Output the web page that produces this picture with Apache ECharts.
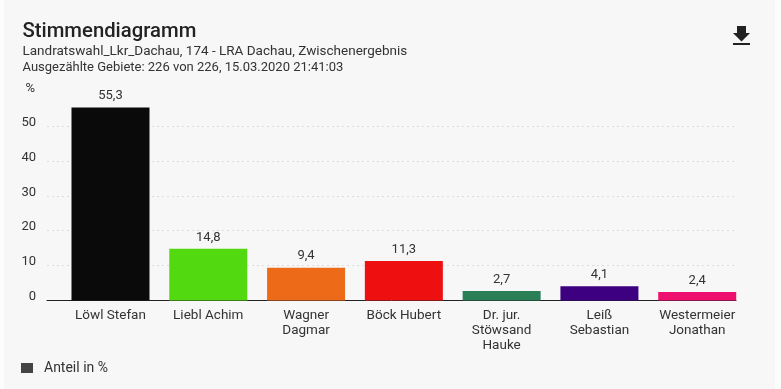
<!DOCTYPE html>
<html><head><meta charset="utf-8">
<style>html,body{margin:0;padding:0;background:#fcfcfc}#bg{position:absolute;left:4px;top:0;width:771px;height:389px;background:#f7f7f7}#c{position:absolute;left:0;top:0;width:781px;height:389px}</style>
<script src="https://cdn.jsdelivr.net/npm/echarts@6/dist/echarts.min.js"></script>
</head><body><div id="bg"></div><div id="c"></div>
<script>
const categories = ['Löwl Stefan','Liebl Achim','Wagner\nDagmar','Böck Hubert','Dr. jur.\nStöwsand\nHauke','Leiß\nSebastian','Westermeier\nJonathan'];
const values = [55.3,14.8,9.4,11.3,2.7,4.1,2.4];
const barColors = ['#0a0a0a','#52d90f','#ec6a18','#ee1010','#2a7f57','#3d0080','#ee0f6e'];
const yTicks = [0,10,20,30,40,50,60];
const FONT = 'Roboto';
const TXT = '#333';
const GRID = '#dcdcdc';
const chart = echarts.init(document.getElementById('c'), null, {renderer:'canvas'});
chart.setOption({
  animation:false,
  backgroundColor:'transparent',
  textStyle:{fontFamily:FONT,color:TXT},
  title:[
    {text:'Stimmendiagramm',left:22.5,top:22,padding:0,textStyle:{fontFamily:FONT,fontSize:20.3,fontWeight:500,color:'#222'}},
    {text:'Landratswahl_Lkr_Dachau, 174 - LRA Dachau, Zwischenergebnis',left:22.5,top:45,padding:0,textStyle:{fontFamily:FONT,fontSize:13.5,fontWeight:400,color:TXT}},
    {text:'Ausgezählte Gebiete: 226 von 226, 15.03.2020 21:41:03',left:22.5,top:61,padding:0,textStyle:{fontFamily:FONT,fontSize:13,fontWeight:400,color:TXT}}
  ],
  legend:{left:21,top:361,padding:0,icon:'rect',itemWidth:12,itemHeight:10,itemGap:10,
    itemStyle:{color:'#444'},textStyle:{fontFamily:FONT,fontSize:14,color:TXT,padding:[0,0,0,6]},data:['Anteil in %']},
  grid:[
    {left:61.6,right:34.9,top:91,bottom:88.5},
    {left:47,right:45,top:91,bottom:88.5}
  ],
  xAxis:[
    {type:'category',gridIndex:0,data:categories,axisLine:{show:false},axisTick:{show:false},
     axisLabel:{interval:0,margin:8,fontFamily:FONT,fontSize:13.5,lineHeight:15,color:TXT}},
    {type:'value',gridIndex:1,min:0,max:1,axisLabel:{show:false},axisTick:{show:false},splitLine:{show:false},
     axisLine:{show:true,lineStyle:{color:'#222',width:1}}}
  ],
  yAxis:[
    {type:'value',gridIndex:0,min:0,max:60,interval:10,show:false},
    {type:'value',gridIndex:1,min:0,max:60,interval:10,axisLine:{show:false},axisTick:{show:false},
     axisLabel:{margin:11,fontFamily:FONT,fontSize:13,color:TXT,verticalAlign:'bottom',lineHeight:7,
       formatter:v=>yTicks.includes(v)&&v<60?String(v):''},
     splitLine:{show:true,lineStyle:{type:[2,3],width:1,
       color:['transparent',GRID,GRID,GRID,GRID,GRID,'transparent']}},
     name:'%',nameLocation:'end',nameGap:-4,nameTextStyle:{fontFamily:FONT,fontSize:13,color:TXT,align:'right',padding:[0,12,0,0]}}
  ],
  series:[{
    name:'Anteil in %',type:'bar',xAxisIndex:0,yAxisIndex:0,barWidth:78,itemStyle:{color:'#444'},
    data:values.map((v,i)=>({value:v,itemStyle:{color:barColors[i]}})),
    label:{show:true,position:'top',distance:5,fontFamily:FONT,fontSize:13,color:TXT,
      formatter:p=>p.value.toFixed(1).replace('.',',')}
  }],
  graphic:[
    {type:'polygon',shape:{points:[[737,26],[746,26],[746,33],[750,33],[741.5,41.5],[733,33],[737,33]]},style:{fill:'#222'}},
    {type:'rect',shape:{x:733,y:43,width:17,height:2},style:{fill:'#222'}}
  ]
});
</script></body></html>
